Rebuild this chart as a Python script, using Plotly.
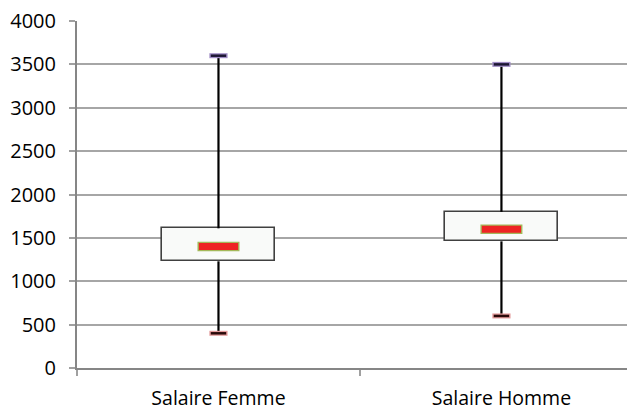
import plotly.graph_objects as go

categories = ["Salaire Femme", "Salaire Homme"]
minimum = [400, 600]
q1 = [1230, 1460]
median = [1400, 1600]
q3 = [1610, 1800]
maximum = [3600, 3500]
y_ticks = [0, 500, 1000, 1500, 2000, 2500, 3000, 3500, 4000]

FONT = "Open Sans"
fig = go.Figure()

# boxes
fig.add_trace(go.Bar(
    x=categories, y=[b - a for a, b in zip(q1, q3)], base=q1, width=0.4,
    marker=dict(color="#f9faf9", line=dict(color="#404040", width=1.6)),
    hoverinfo="skip", showlegend=False))

# whiskers (outside the boxes)
wx, wy = [], []
for c, lo, a, b, hi in zip(categories, minimum, q1, q3, maximum):
    wx += [c, c, None, c, c, None]
    wy += [lo, a, None, b, hi, None]
fig.add_trace(go.Scatter(x=wx, y=wy, mode="lines",
                         line=dict(color="#000000", width=2.2),
                         hoverinfo="skip", showlegend=False))

def marker_pair(xs, ys, outer_col, inner_col, size_o, size_i, w_o, w_i):
    fig.add_trace(go.Scatter(x=xs, y=ys, mode="markers",
                             marker=dict(symbol="line-ew", size=size_o,
                                         line=dict(color=outer_col, width=w_o)),
                             hoverinfo="skip", showlegend=False))
    fig.add_trace(go.Scatter(x=xs, y=ys, mode="markers",
                             marker=dict(symbol="line-ew", size=size_i,
                                         line=dict(color=inner_col, width=w_i)),
                             hoverinfo="skip", showlegend=False))

# caps
marker_pair(categories, maximum, "#9f8cc4", "#1c1633", 13, 11, 5, 2.5)
marker_pair(categories, minimum, "#e39a9a", "#2a0a0a", 13, 11, 5, 2.5)
# medians
marker_pair(categories, median, "#a4b85a", "#ee2424", 30, 28, 9.5, 7)

fig.update_layout(
    width=627, height=402,
    margin=dict(l=69, r=0, t=13, b=42),
    paper_bgcolor="white", plot_bgcolor="white",
    font=dict(family=FONT, size=20, color="#000000"),
    bargap=0,
    xaxis=dict(type="category", range=[-0.5, 1.472], tickson="boundaries",
               showgrid=False, showline=True, linecolor="#868686", linewidth=2,
               ticks="outside", ticklen=6, tickcolor="#a0a0a0", tickwidth=1.5,
               tickfont=dict(size=19.5),
               ticklabelstandoff=12, automargin=False, fixedrange=True,
               ticklabeloverflow="allow"),
    yaxis=dict(range=[0, 4000], tickvals=y_ticks, showgrid=True,
               gridcolor="#a6a6a6", gridwidth=1.5, zeroline=False,
               showline=True, linecolor="#868686", linewidth=2,
               ticks="outside", ticklen=6, tickcolor="#a0a0a0", tickwidth=1.5,
               ticklabelstandoff=9, automargin=False, fixedrange=True,
               ticklabeloverflow="allow"),
)

fig.write_html("out.html")
